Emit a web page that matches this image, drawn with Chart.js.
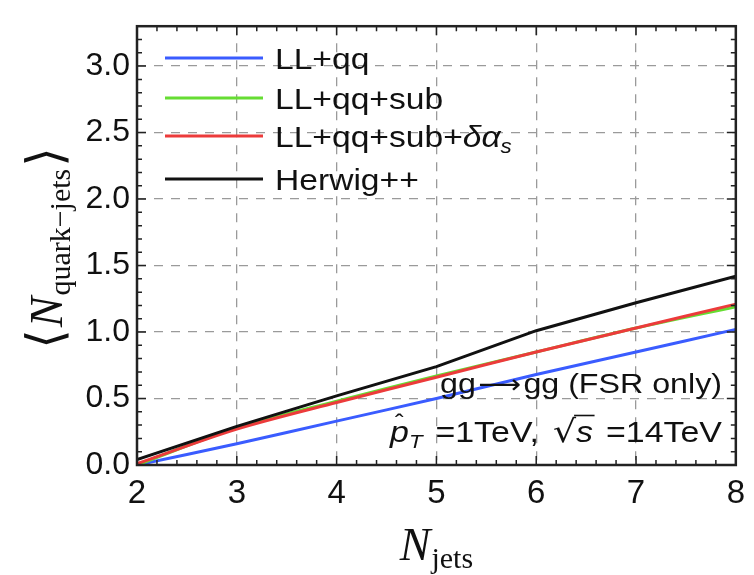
<!DOCTYPE html>
<html>
<head>
<meta charset="utf-8">
<script src="https://cdn.jsdelivr.net/npm/chart.js@4.4.1/dist/chart.umd.min.js"></script>
<style>
    html, body { margin: 0; padding: 0; background: #fff; }
    #wrap { width: 754px; height: 575px; position: relative; }
</style>
</head>
<body>
<div id="wrap"><canvas id="chart-quark-jets"></canvas></div>
<script>
// values
const nJets = [2, 3, 4, 5, 6, 7, 8];
const llQq = [0.0, 0.16, 0.33, 0.50, 0.68, 0.85, 1.02];
const llQqSub = [0.0, 0.28, 0.48, 0.67, 0.85, 1.03, 1.19];
const llQqSubAlpha = [0.01, 0.27, 0.47, 0.66, 0.85, 1.03, 1.21];
const herwig = [0.04, 0.29, 0.52, 0.74, 1.01, 1.22, 1.42];

const seriesLabels = ['LL+qq', 'LL+qq+sub', 'LL+qq+sub+δα_s', 'Herwig++'];
const xTicks = [2, 3, 4, 5, 6, 7, 8];
const yTicks = [0, 0.5, 1.0, 1.5, 2.0, 2.5, 3.0];

const SANS = '"Liberation Sans", Arial, sans-serif';
const SERIF = '"Liberation Serif", "Times New Roman", serif';

const toPoints = (ys) => nJets.map((x, i) => ({ x, y: ys[i] }));

// draws a row of text pieces from x (left), returns width
function drawPieces(ctx, pieces, x, y, measureOnly) {
    let cx = x;
    const pos = [];
    for (const p of pieces) {
        ctx.font = p.font;
        const w = ctx.measureText(p.t).width;
        pos.push(cx);
        if (!measureOnly) {
            ctx.fillText(p.t, cx, y + (p.dy || 0));
        }
        cx += w + (p.gap || 0);
    }
    pieces.pos = pos;
    return cx - x;
}

// same, but stretched horizontally (the original uses a wide Helvetica)
function drawStretched(ctx, pieces, x, y, sx, alignRight) {
    const w = drawPieces(ctx, pieces, 0, 0, true);
    ctx.save();
    ctx.translate(alignRight ? x - w * sx : x, y);
    ctx.scale(sx, 1);
    drawPieces(ctx, pieces, 0, 0);
    ctx.restore();
    return w * sx;
}

const frameTicks = {
    id: 'frameTicks',
    afterDatasetsDraw(chart) {
        const { ctx, chartArea: a, scales: { x, y } } = chart;
        ctx.save();
        ctx.strokeStyle = '#222';
        ctx.lineWidth = 1.5;
        for (let i = 0; i <= 30; i++) {
            const px = x.getPixelForValue(2 + i * 0.2);
            const len = i % 5 === 0 ? 9 : 5;
            ctx.beginPath();
            ctx.moveTo(px, a.bottom); ctx.lineTo(px, a.bottom - len);
            ctx.moveTo(px, a.top); ctx.lineTo(px, a.top + len);
            ctx.stroke();
        }
        for (let i = 0; i <= 33; i++) {
            const py = y.getPixelForValue(i * 0.1);
            const len = i % 5 === 0 ? 9 : 5;
            ctx.beginPath();
            ctx.moveTo(a.left, py); ctx.lineTo(a.left + len, py);
            ctx.moveTo(a.right, py); ctx.lineTo(a.right - len, py);
            ctx.stroke();
        }
        ctx.lineWidth = 2.5;
        ctx.strokeRect(a.left, a.top, a.right - a.left, a.bottom - a.top);
        ctx.restore();
    },
};

const labelsAndLegend = {
    id: 'labelsAndLegend',
    afterDraw(chart) {
        const { ctx, chartArea: a } = chart;
        ctx.save();
        ctx.fillStyle = '#111';
        ctx.textBaseline = 'alphabetic';
        ctx.textAlign = 'left';

        // legend inside the frame
        const rows = [58, 98, 136, 179];
        chart.data.datasets.forEach((ds, i) => {
            const yy = rows[i];
            ctx.strokeStyle = ds.borderColor;
            ctx.lineWidth = 3;
            ctx.beginPath();
            ctx.moveTo(165, yy);
            ctx.lineTo(263, yy);
            ctx.stroke();
            const [main, sub] = ds.label.split('_');
            const m = main.match(/^(.*?)(δα)?$/);
            const pieces = [{ t: m[1], font: `30px ${SANS}` }];
            if (m[2]) pieces.push({ t: m[2], font: `italic 30px ${SANS}` });
            if (sub) pieces.push({ t: sub, font: `italic 20px ${SANS}`, dy: 6 });
            drawStretched(ctx, pieces, 275, yy + 11, 1.12, false);
        });

        // process annotation
        const line1 = [
            { t: 'gg', font: `28px ${SANS}`, gap: 2 },
            { t: '⟶', font: `26px "DejaVu Sans", ${SANS}`, gap: 2 },
            { t: 'gg (FSR only)', font: `28px ${SANS}` },
        ];
        drawStretched(ctx, line1, 722, 393, 1.15, true);
        const line2 = [
            { t: 'p', font: `italic 29px ${SANS}` },
            { t: 'T', font: `italic 19px ${SANS}`, dy: 6, gap: 3 },
            { t: ' =1TeV, ', font: `29px ${SANS}`, gap: 4 },
            { t: '√', font: `31px "DejaVu Sans", ${SANS}` },
            { t: 's', font: `italic 29px ${SANS}`, gap: 3 },
            { t: ' =14TeV', font: `29px ${SANS}` },
        ];
        const sx2 = 1.17;
        const w2 = drawStretched(ctx, line2, 722, 442, sx2, true);
        const x2 = 722 - w2;
        const pos = line2.pos.map((p) => x2 + p * sx2);
        // hat on p and bar over s
        ctx.font = `26px ${SANS}`;
        ctx.fillText('ˆ', pos[0] + 5, 432);
        ctx.strokeStyle = '#111';
        ctx.lineWidth = 1.6;
        ctx.beginPath();
        ctx.moveTo(pos[4] - 2, 415.5);
        ctx.lineTo(pos[5] - 2, 415.5);
        ctx.stroke();

        // x axis title
        const xt = [
            { t: 'N', font: `italic 46px ${SERIF}`, gap: 1 },
            { t: 'jets', font: `30px ${SERIF}`, dy: 8 },
        ];
        const xw = drawPieces(ctx, xt, 0, 0, true);
        drawPieces(ctx, xt, (a.left + a.right) / 2 - xw / 2, 560);

        // y axis title, rotated
        ctx.translate(62, 248);
        ctx.rotate(-Math.PI / 2);
        const yt = [
            { t: '⟨', font: `50px "DejaVu Serif", ${SERIF}`, gap: 2 },
            { t: 'N', font: `italic 46px ${SERIF}`, gap: 1 },
            { t: 'quark−jets', font: `30px ${SERIF}`, dy: 8, gap: 2 },
            { t: '⟩', font: `50px "DejaVu Serif", ${SERIF}` },
        ];
        const yw = drawPieces(ctx, yt, 0, 0, true);
        drawPieces(ctx, yt, -yw / 2, 0);
        ctx.restore();
    },
};

const gridStyle = {
    color: '#9a9a9a',
    lineWidth: 1.3,
    drawTicks: false,
};

new Chart(document.getElementById('chart-quark-jets'), {
    type: 'line',
    data: {
        datasets: [
            { label: seriesLabels[0], data: toPoints(llQq), borderColor: '#3a5cff', order: 4, tension: 0.3 },
            { label: seriesLabels[1], data: toPoints(llQqSub), borderColor: '#66dd33', order: 3, tension: 0.3 },
            { label: seriesLabels[2], data: toPoints(llQqSubAlpha), borderColor: '#ec3b3b', order: 2, tension: 0.3 },
            { label: seriesLabels[3], data: toPoints(herwig), borderColor: '#111111', order: 1, tension: 0 },
        ].map((d) => ({ ...d, borderWidth: 3, pointRadius: 0, fill: false })),
    },
    options: {
        responsive: true,
        maintainAspectRatio: false,
        animation: false,
        layout: { padding: { left: 0, top: 15, right: 14, bottom: 0 } },
        plugins: {
            legend: { display: false },
            tooltip: { enabled: false },
        },
        scales: {
            x: {
                type: 'linear',
                min: 2,
                max: 8,
                afterBuildTicks: (s) => { s.ticks = xTicks.map((v) => ({ value: v })); },
                afterFit: (s) => { s.height = 110; },
                grid: gridStyle,
                border: { display: false, dash: [9, 8] },
                ticks: {
                    padding: 9,
                    color: '#111',
                    font: { family: SANS, size: 33 },
                    callback: (v) => String(v),
                },
            },
            y: {
                type: 'linear',
                min: 0,
                max: 3.3,
                afterBuildTicks: (s) => { s.ticks = yTicks.map((v) => ({ value: v })); },
                afterFit: (s) => { s.width = 137; },
                grid: gridStyle,
                border: { display: false, dash: [9, 8] },
                ticks: {
                    padding: 7,
                    color: '#111',
                    font: { family: SANS, size: 32 },
                    callback: (v) => v.toFixed(1),
                },
            },
        },
    },
    plugins: [frameTicks, labelsAndLegend],
});
</script>
</body>
</html>
